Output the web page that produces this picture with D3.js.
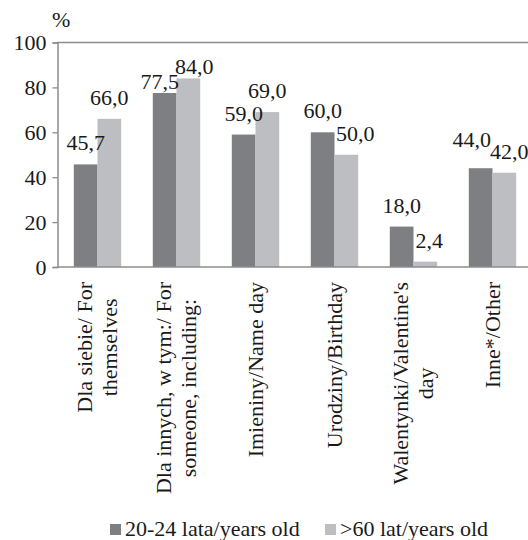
<!DOCTYPE html>
<html>
<head>
<meta charset="utf-8">
<script src="https://cdn.jsdelivr.net/npm/d3@7"></script>
<style>
  html, body { margin: 0; padding: 0; background: #fff; }
</style>
</head>
<body>
<svg id="chart" width="528" height="540"></svg>
<script>
// Categories (label lines) and series values, in percent
const categories = [
  ["Dla siebie/ For", "themselves"],
  ["Dla innych, w tym:/ For", "someone, including:"],
  ["Imieniny/Name day"],
  ["Urodziny/Birthday"],
  ["Walentynki/Valentine's", "day"],
  ["Inne*/Other"]
];
const seriesNames = ["20-24 lata/years old", ">60 lat/years old"];
const young = [45.7, 77.5, 59.0, 60.0, 18.0, 44.0];
const senior = [66.0, 84.0, 69.0, 50.0, 2.4, 42.0];
const yTicks = [0, 20, 40, 60, 80, 100];
const unitLabel = "%";

const colors = ["#7e7f83", "#bdbec2"];
const fontSize = 22;

const svg = d3.select("#chart");
const catKeys = categories.map(c => c.join(" "));

function txt(sel) {
  return sel.attr("font-family", "Liberation Serif")
    .style("font-family", "Liberation Serif")
    .style("font-size", fontSize + "px")
    .style("fill", "#1a1a1a");
}

const x = d3.scaleBand().domain(catKeys).range([58, 532]).padding(0);
const y = d3.scaleLinear().domain([0, 100]).range([267, 42.5]);
const groupW = x.bandwidth() * 0.6;
const xs = d3.scaleBand().domain([0, 1]).range([0, groupW]).padding(0);

// Top gridline at 100
svg.append("line")
  .attr("x1", 57).attr("x2", 528)
  .attr("y1", y(100)).attr("y2", y(100))
  .attr("stroke", "#8c8c8c").attr("stroke-width", 1.3);

// Bars
const rows = catKeys.map((k, i) => ({ key: k, values: [young[i], senior[i]] }));
const groups = svg.append("g").selectAll("g").data(rows).join("g")
  .attr("transform", d => `translate(${x(d.key) + (x.bandwidth() - groupW) / 2},0)`);

groups.selectAll("rect").data(d => d.values.map((v, s) => ({ v, s })))
  .join("rect")
  .attr("x", d => xs(d.s))
  .attr("width", xs.bandwidth())
  .attr("y", d => y(d.v))
  .attr("height", d => y(0) - y(d.v))
  .attr("fill", d => colors[d.s]);

// Y axis
const yAxis = d3.axisLeft(y).tickValues(yTicks).tickSize(5).tickPadding(6)
  .tickFormat(d3.format("d"));
const gy = svg.append("g").attr("transform", "translate(57.5,0)").call(yAxis);
gy.attr("font-family", "Liberation Serif").attr("font-size", fontSize);
gy.select(".domain").attr("stroke", "#8c8c8c").attr("stroke-width", 1.5);
gy.selectAll(".tick line").attr("stroke", "#8c8c8c").attr("stroke-width", 1.3);
txt(gy.selectAll(".tick text"));

// X axis baseline
svg.append("line")
  .attr("x1", 57).attr("x2", 528)
  .attr("y1", y(0)).attr("y2", y(0))
  .attr("stroke", "#8c8c8c").attr("stroke-width", 1.5);

// Unit label
txt(svg.append("text").attr("x", 52).attr("y", 27)).text(unitLabel);

// Value labels: centred above each bar, nudged where neighbours collide
const nudge = {
  "1-0": [-5, 10], "1-1": [6, 10],
  "3-1": [9, 0], "4-1": [4, 0],
  "5-0": [-9, -7], "5-1": [5, 0]
};
const fmt = v => v.toFixed(1).replace(".", ",");
rows.forEach((r, i) => {
  r.values.forEach((v, s) => {
    const n = nudge[`${i}-${s}`] || [0, 0];
    const cx = x(r.key) + (x.bandwidth() - groupW) / 2 + xs(s) + xs.bandwidth() / 2;
    txt(svg.append("text"))
      .attr("x", cx + n[0])
      .attr("y", y(v) - 14 + n[1])
      .attr("text-anchor", "middle")
      .text(fmt(v));
  });
});

// Category labels, rotated, lines centred on each other and hung from the axis
const labelTop = 282;
const lineGap = 25;
rows.forEach((r, i) => {
  const lines = categories[i];
  const cx = x(r.key) + x.bandwidth() / 2;
  const g = svg.append("g");
  const texts = lines.map(t => txt(g.append("text")).attr("text-anchor", "middle").text(t));
  const maxLen = d3.max(texts, t => t.node().getComputedTextLength());
  const midY = labelTop + maxLen / 2;
  texts.forEach((t, j) => {
    const bx = cx + 7 + (j - (lines.length - 1) / 2) * lineGap;
    t.attr("transform", `translate(${bx},${midY}) rotate(-90)`);
  });
});

// Legend
const legendItems = [{ x: 110, name: seriesNames[0], c: colors[0] }, { x: 325, name: seriesNames[1], c: colors[1] }];
legendItems.forEach(it => {
  svg.append("rect").attr("x", it.x).attr("y", 524).attr("width", 11).attr("height", 11).attr("fill", it.c);
  txt(svg.append("text")).attr("x", it.x + 15).attr("y", 536).text(it.name);
});
</script>
</body>
</html>
